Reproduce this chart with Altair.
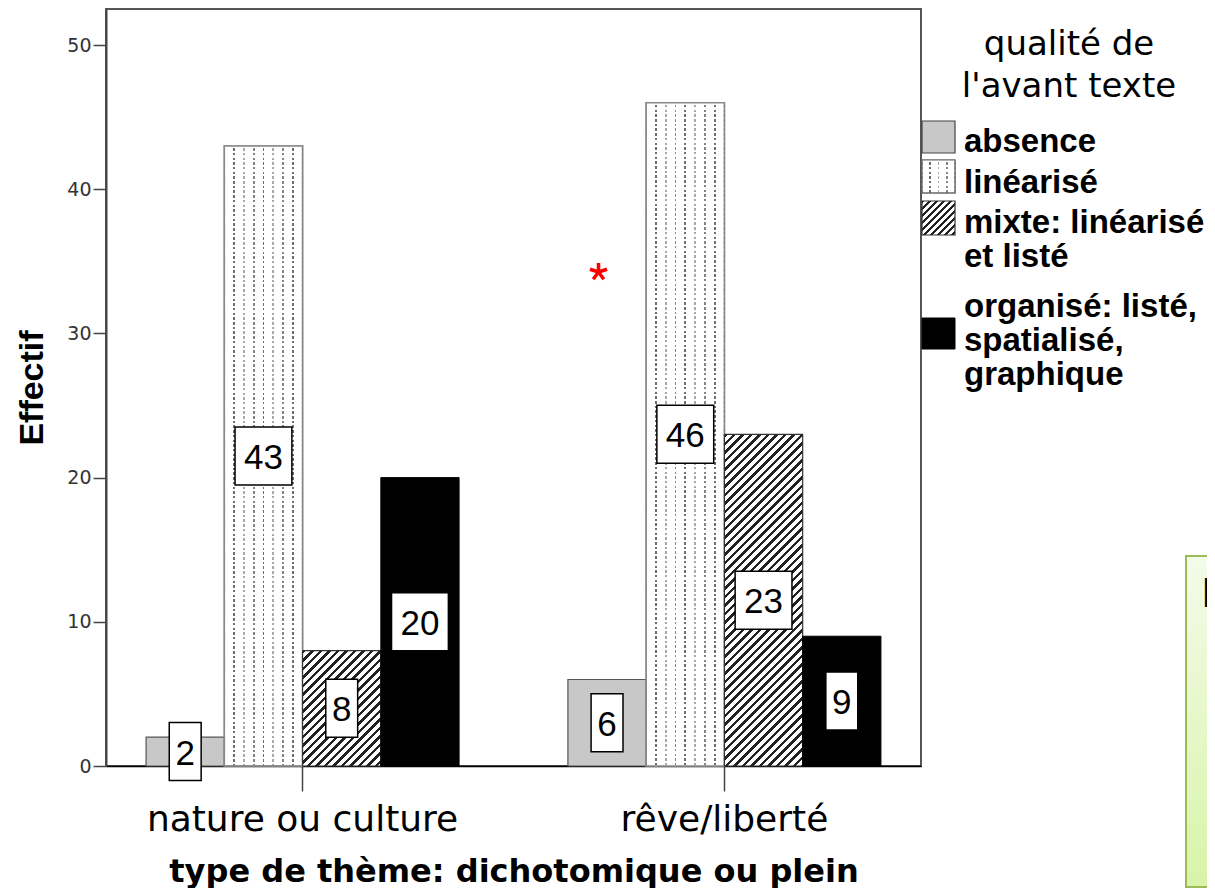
import altair as alt
import pandas as pd

# ---------------- data ----------------
themes = ["nature ou culture", "rêve/liberté"]
qualites = [
    "absence",
    "linéarisé",
    "mixte: linéarisé et listé",
    "organisé: listé, spatialisé, graphique",
]
effectif_nature = [2, 43, 8, 20]
effectif_reve = [6, 46, 23, 9]

y_ticks = [0, 10, 20, 30, 40, 50]
legend_title = "qualité de\nl'avant texte"
legend_labels = ["absence", "linéarisé", "mixte: linéarisé\net listé", "organisé: listé,\nspatialisé,\ngraphique"]

rows = []
for ti, (t, vals) in enumerate(zip(themes, [effectif_nature, effectif_reve])):
    for qi, (q, v) in enumerate(zip(qualites, vals)):
        rows.append({"theme": t, "qualite": q, "effectif": v, "key": f"{qi}-{ti}"})
df = pd.DataFrame(rows)

# ---------------- layout / style ----------------
W, H = 815, 757
Y_MAX = 52.5
PAD_IN, PAD_OUT = 0.258, 0.095
STEP = W / (len(themes) - PAD_IN + 2 * PAD_OUT)
BAR_W = STEP * (1 - PAD_IN) / len(qualites)
PX = H / Y_MAX
CLEAR = "rgba(255,255,255,0)"


def band_stops(length, period, band, colors, bg, start=0.0, max_n=10000):
    stops = [{"offset": 0, "color": bg}]
    pos, i = start, 0
    while pos < length and i < max_n:
        c = colors[i % len(colors)]
        s = max(pos / length, 0)
        e = min((pos + band) / length, 1)
        stops += [
            {"offset": s, "color": bg},
            {"offset": s, "color": c},
            {"offset": e, "color": c},
            {"offset": e, "color": bg},
        ]
        pos += period
        i += 1
    stops.append({"offset": 1, "color": bg})
    return stops


def vlines(w, n):
    per = w / (n + 1)
    return {
        "gradient": "linear", "x1": 0, "y1": 0, "x2": 1, "y2": 0,
        "stops": band_stops(w, per, 1.8, ["#6e6e6e", "#a8a8a8", "#858585"], "#ffffff",
                            start=per - 0.9, max_n=n),
    }


def dots(h):
    return {
        "gradient": "linear", "x1": 0, "y1": 0, "x2": 0, "y2": 1,
        "stops": band_stops(h, 4.7, 2.2, ["#ffffff"], CLEAR),
    }


def hatch(w, h, spacing=8.5, dark=3.4):
    L = w + h
    k = w * L / (w * w + h * h)
    return {
        "gradient": "linear", "x1": 0, "y1": 0, "x2": k, "y2": k * h / w,
        "stops": band_stops(L, spacing, dark, ["#222222"], "#ffffff"),
    }


y_axis = alt.Axis(
    values=y_ticks, format="d", grid=False,
    tickSize=13, tickColor="#444", tickWidth=1.5,
    domainColor="#444", domainWidth=2,
    labelFont="DejaVu Sans", labelFontSize=19, labelColor="#333", labelPadding=2,
    titleFont="Liberation Sans", titleFontWeight="bold", titleFontSize=34, titleColor="black",
    titleX=-64, titleY=H / 2, titleBaseline="alphabetic", titleAlign="center", titleLimit=1000,
)
x_axis = alt.Axis(
    labelAngle=0, labelFont="DejaVu Sans", labelFontSize=36, labelColor="black",
    labelPadding=11.5, labelLimit=1000,
    tickSize=25, tickColor="#444", tickWidth=1.5,
    domainColor="black", domainWidth=1.5,
    titleFont="DejaVu Sans", titleFontWeight="bold", titleFontSize=32, titleColor="black",
    titleX=W / 2, titleY=115, titleBaseline="alphabetic", titleAlign="center", titleLimit=2000,
)

X = alt.X("theme:N", scale=alt.Scale(domain=themes, paddingInner=PAD_IN, paddingOuter=PAD_OUT),
          axis=x_axis, title="type de thème: dichotomique ou plein")
XO = alt.XOffset("qualite:N", scale=alt.Scale(domain=qualites, paddingInner=0, paddingOuter=0))
y_scale = alt.Scale(domain=[0, Y_MAX], nice=False, zero=True)


def Y(field):
    return alt.Y(field, scale=y_scale, axis=y_axis, title="Effectif")


base = alt.Chart(df).encode(x=X, xOffset=XO, y=Y("effectif:Q"))


def bars(keys, **mark):
    return base.transform_filter(alt.FieldOneOfPredicate(field="key", oneOf=keys)).mark_bar(**mark)


layers = []
# absence
layers.append(bars(["0-0", "0-1"], fill="#c8c8c8", stroke="#555", strokeWidth=1.2))
# linéarisé (dotted vertical lines)
layers.append(bars(["1-0", "1-1"], fill=vlines(BAR_W, 7), stroke="#888", strokeWidth=1.5))
for ti, vals in enumerate([effectif_nature, effectif_reve]):
    layers.append(bars([f"1-{ti}"], fill=dots(vals[1] * PX), stroke="#888", strokeWidth=1.5))
# mixte (diagonal hatch)
for ti, vals in enumerate([effectif_nature, effectif_reve]):
    layers.append(bars([f"2-{ti}"], fill=hatch(BAR_W, vals[2] * PX), stroke="#333", strokeWidth=1.2))
# organisé
layers.append(bars(["3-0", "3-1"], fill="black", stroke="black", strokeWidth=1))

# value labels in boxes
lab = base.transform_calculate(
    mid="datum.effectif / 2",
    box="length(toString(datum.effectif)) > 1 ? 'M-0.98,-1H0.98V1H-0.98Z' : 'M-0.55,-1H0.55V1H-0.55Z'",
)
layers.append(
    lab.mark_point(filled=True, fill="white", stroke="black", strokeWidth=1.5,
                   opacity=1, fillOpacity=1, size=58 * 58, dy=0)
    .encode(y=Y("mid:Q"), shape=alt.Shape("box:N", scale=None))
)
layers.append(
    lab.mark_text(font="Liberation Sans", fontSize=35, color="black", baseline="middle", dy=2)
    .encode(y=Y("mid:Q"), text=alt.Text("effectif:Q", format="d"))
)

# legend
leg_title = alt.Chart(pd.DataFrame({"t": [legend_title]})).mark_text(
    font="DejaVu Sans", fontSize=34, color="black", align="center", baseline="alphabetic",
    lineBreak="\n", lineHeight=42,
).encode(text="t:N", x=alt.value(963), y=alt.value(46))
layers.append(leg_title)

sw_x0, sw_x1 = 816, 849
sw_rows = [(112, 144), (151, 184), (192, 226), (309, 340)]
sw_fills = [
    dict(fill="#c8c8c8", stroke="#444", strokeWidth=1.2),
    dict(fill=vlines(sw_x1 - sw_x0, 3), stroke="#666", strokeWidth=1.2),
    dict(fill=hatch(sw_x1 - sw_x0, 34, spacing=7, dark=2.6), stroke="#333", strokeWidth=1.2),
    dict(fill="black", stroke="black", strokeWidth=1),
]
for q, (y0, y1), st in zip(qualites, sw_rows, sw_fills):
    layers.append(
        alt.Chart(pd.DataFrame({"q": [q]})).mark_rect(**st).encode(
            x=alt.value(sw_x0), x2=alt.value(sw_x1), y=alt.value(y0), y2=alt.value(y1))
    )
    if q == qualites[1]:
        layers.append(
            alt.Chart(pd.DataFrame({"q": [q]})).mark_rect(fill=dots(y1 - y0), stroke="#666", strokeWidth=1.2).encode(
                x=alt.value(sw_x0), x2=alt.value(sw_x1), y=alt.value(y0), y2=alt.value(y1))
        )

leg_base_y = [143, 184, 224, 308]
for txt, by in zip(legend_labels, leg_base_y):
    layers.append(
        alt.Chart(pd.DataFrame({"t": [txt]})).mark_text(
            font="Liberation Sans", fontWeight="bold", fontSize=33, color="black",
            align="left", baseline="alphabetic", lineBreak="\n", lineHeight=34,
        ).encode(text="t:N", x=alt.value(858), y=alt.value(by))
    )

# red asterisk annotation
layers.append(
    alt.Chart(pd.DataFrame({"a": ["*"]})).mark_point(
        shape="M0,0L0,-1M0,0L0.951,-0.309M0,0L0.588,0.809M0,0L-0.588,0.809M0,0L-0.951,-0.309",
        size=324, stroke="#ff0000", strokeWidth=3.5, filled=False, opacity=1, strokeCap="butt",
    ).encode(x=alt.value(492.5), y=alt.value(263))
)

# green text box (cut at right edge)
layers.append(
    alt.Chart(pd.DataFrame({"b": [1]})).mark_rect(
        fill={"gradient": "linear", "x1": 0, "y1": 0, "x2": 0, "y2": 1,
              "stops": [{"offset": 0, "color": "#f4fbea"}, {"offset": 1, "color": "#d8f4a8"}]},
        stroke="#9bbb59", strokeWidth=2,
    ).encode(x=alt.value(1080), x2=alt.value(1130), y=alt.value(547), y2=alt.value(878))
)
layers.append(
    alt.Chart(pd.DataFrame({"t": ["L"]})).mark_text(
        font="Liberation Sans", fontSize=42, color="black", align="left", baseline="alphabetic",
    ).encode(text="t:N", x=alt.value(1095.5), y=alt.value(597.7))
)

chart = alt.layer(*layers).properties(
    width=W, height=H,
    autosize=alt.AutoSizeParams(type="none"),
    padding={"left": 98, "top": 1, "right": 286, "bottom": 122},
).configure(
    font="DejaVu Sans",
    view=alt.ViewConfig(stroke="#555", strokeWidth=2),
)

chart.save("out.html", embed_options={"renderer": "svg", "actions": False})
